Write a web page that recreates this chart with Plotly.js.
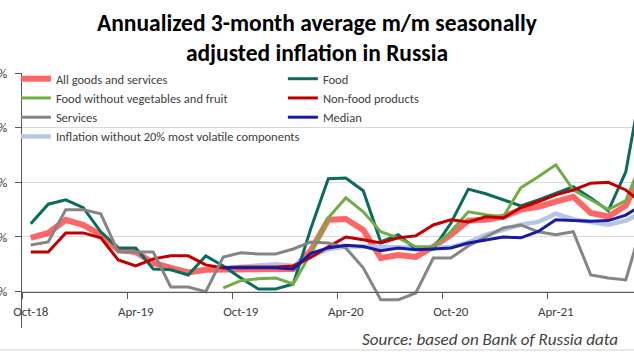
<!DOCTYPE html>
<html>
<head>
<meta charset="utf-8">
<script src="https://cdn.plot.ly/plotly-3.0.1.min.js"></script>
<style>
html,body{margin:0;padding:0;background:#fff;}
#chart{width:634px;height:360px;}
</style>
</head>
<body>
<div id="chart"></div>
<script>
const months = ['Oct-18','Nov-18','Dec-18','Jan-19','Feb-19','Mar-19','Apr-19','May-19','Jun-19','Jul-19','Aug-19','Sep-19',
  'Oct-19','Nov-19','Dec-19','Jan-20','Feb-20','Mar-20','Apr-20','May-20','Jun-20','Jul-20','Aug-20','Sep-20',
  'Oct-20','Nov-20','Dec-20','Jan-21','Feb-21','Mar-21','Apr-21','May-21','Jun-21','Jul-21','Aug-21','Sep-21'];

const allGoods = [1.97,2.15,2.63,2.44,2.08,1.53,1.45,1.05,0.87,0.70,0.80,0.80,
  0.85,0.80,0.83,0.83,1.50,2.63,2.66,2.26,1.23,1.34,1.27,1.64,
  2.08,2.60,2.63,2.74,3.00,3.10,3.29,3.47,2.88,2.75,3.15,4.50];
const food = [2.48,3.20,3.36,3.07,2.19,1.60,1.60,0.83,0.80,0.61,1.31,0.94,
  0.50,0.10,0.10,0.28,2.30,4.13,4.16,3.69,1.82,2.08,1.56,1.56,
  2.50,3.75,3.58,3.36,3.14,3.36,3.60,3.84,3.43,2.96,4.38,7.90];
const foodExVeg = [null,null,null,null,null,null,null,null,null,null,null,0.14,
  0.40,0.47,0.50,0.28,1.40,2.70,3.43,2.92,2.19,1.97,1.64,1.64,
  2.19,2.92,2.81,2.74,3.80,4.20,4.64,3.72,3.36,3.00,3.33,4.90];
const nonFood = [1.45,1.45,2.15,2.15,1.97,1.16,0.94,1.20,1.31,1.31,0.98,0.87,
  0.90,0.90,0.90,0.94,1.25,1.64,2.00,1.90,1.78,1.97,2.04,2.44,
  2.63,2.55,2.74,2.70,3.07,3.29,3.54,3.72,3.97,4.00,3.72,3.20];
const services = [1.71,1.82,3.00,3.00,2.85,1.45,1.45,1.45,0.17,0.17,0.00,1.27,
  1.42,1.38,1.38,1.56,1.82,1.78,1.60,0.87,-0.30,-0.30,-0.05,1.23,
  1.23,1.67,2.00,2.33,2.44,2.19,2.08,2.19,0.61,0.50,0.43,2.60];
const median = [null,null,null,null,null,null,null,null,null,null,null,0.87,
  0.87,0.87,0.87,0.83,1.40,1.60,1.70,1.65,1.50,1.60,1.53,1.56,
  1.60,1.78,1.90,2.00,1.97,2.20,2.63,2.60,2.58,2.60,2.80,3.20];
const exVolatile = [null,null,null,null,null,null,null,null,null,null,null,0.87,
  0.90,0.95,1.00,0.95,1.30,1.55,1.65,1.65,1.63,1.63,1.60,1.60,
  1.63,1.80,2.08,2.25,2.45,2.55,2.85,2.65,2.55,2.45,2.60,2.90];

const yTickVals = [0,2,4,6,8];
const yTickText = ['0%','2%','4%','6%','8%'];

function tr(name, y, color, width, rank){
  return {type:'scatter', mode:'lines', name:name, x:months, y:y,
    line:{color:color, width:width}, legendrank:rank, connectgaps:false,
    hoverinfo:'skip'};
}

const data = [
  tr('All goods and services', allGoods, 'rgba(255,85,85,0.9)', 6, 1),
  tr('Inflation without 20% most volatile components', exVolatile, '#b4c7e7', 4.5, 7),
  tr('Food', food, '#0b6b5f', 3, 2),
  tr('Food without vegetables and fruit', foodExVeg, '#70ad47', 3, 3),
  tr('Non-food products', nonFood, '#c00000', 3, 4),
  tr('Services', services, '#858585', 3, 5),
  tr('Median', median, '#1a1aa0', 3, 6)
];

const layout = {
  width:634, height:360,
  margin:{l:22, r:0, t:73, b:32},
  paper_bgcolor:'#ffffff', plot_bgcolor:'rgba(0,0,0,0)',
  font:{family:'Carlito, Lato, sans-serif', color:'#404040', size:13},
  title:{text:'<b>Annualized 3-month average m/m seasonally<br>adjusted inflation in Russia</b>',
    font:{family:'Carlito, Lato, sans-serif', size:23.5, color:'#000000'},
    x:0.5, xanchor:'center', xref:'container', y:0.915, yanchor:'top', yref:'container'},
  showlegend:true,
  legend:{orientation:'h', x:-0.01, xanchor:'left', y:1.035, yanchor:'top',
    entrywidth:222, entrywidthmode:'pixels', bgcolor:'rgba(0,0,0,0)',
    font:{size:12.5, color:'#404040', family:'Carlito, Lato, sans-serif'},
    traceorder:'normal', itemwidth:30},
  xaxis:{type:'category', range:[-0.5, 34.47], tickmode:'linear', tick0:0, dtick:6,
    tickson:'boundaries', ticks:'outside', ticklen:6, tickcolor:'#595959', tickwidth:1,
    tickangle:0, ticklabelstandoff:8,
    showgrid:false, showline:true, linecolor:'#595959', linewidth:1,
    anchor:'free', position:0.1424, zeroline:false,
    tickfont:{size:13, color:'#404040'}},
  yaxis:{range:[-1.33, 8], tickmode:'array', tickvals:yTickVals, ticktext:yTickText,
    showgrid:true, gridcolor:'#d9d9d9', gridwidth:1, zeroline:false,
    showline:true, linecolor:'#595959', linewidth:1, ticks:'outside', ticklen:6,
    tickcolor:'#595959', automargin:false, ticklabelstandoff:5,
    tickfont:{size:13, color:'#404040'}},
  shapes:[
    {type:'line', xref:'paper', yref:'paper', x0:-0.04, x1:1.0, y0:-0.0863, y1:-0.0863,
     line:{color:'#d0d0d0', width:1}}
  ],
  annotations:[
    {text:'<i>Source: based on Bank of Russia data</i>', xref:'paper', yref:'paper',
     x:0.977, xanchor:'right', y:-0.047, yanchor:'middle', showarrow:false,
     font:{size:17, color:'#404040'}}
  ]
};

Plotly.newPlot('chart', data, layout, {staticPlot:true, displayModeBar:false});
</script>
</body>
</html>
